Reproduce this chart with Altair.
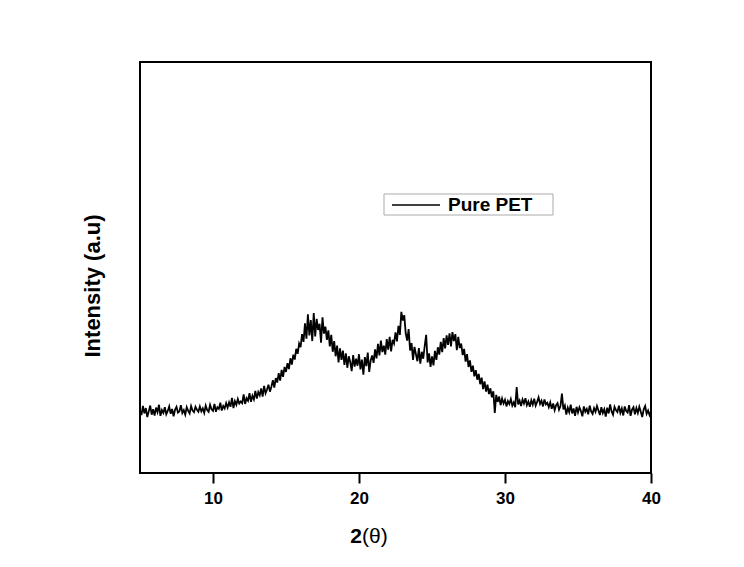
import altair as alt
import pandas as pd

# 2-theta from 5 to 40 in steps of 0.1
two_theta = [round(5 + i * 0.1, 1) for i in range(351)]

intensity = [
    15.2, 14.1, 16.3, 14.5, 15.8, 13.6, 15.0, 16.4, 14.2, 15.5,
    14.0, 15.9, 14.8, 16.6, 13.9, 15.3, 14.6, 16.0, 14.3, 15.1,
    16.2, 14.4, 15.6, 13.8, 15.4, 16.1, 14.7, 15.0, 16.5, 14.6,
    15.3, 14.2, 16.0, 15.1, 14.5, 16.3, 15.2, 14.8, 16.1, 15.4,
    14.9, 16.2, 15.0, 15.7, 14.6, 16.4, 15.3, 14.9, 16.6, 15.5,
    15.1, 16.8, 14.9, 16.0, 15.6, 17.1, 15.2, 16.3, 15.7, 17.0,
    15.9, 17.2, 16.1, 18.3, 15.8, 17.5, 16.6, 18.0, 16.9, 17.4,
    17.0, 19.1, 16.8, 18.2, 17.6, 19.4, 17.3, 18.8, 17.9, 20.0,
    18.1, 19.7, 18.9, 20.6, 18.6, 21.2, 19.4, 20.3, 21.5, 19.8,
    21.0, 22.6, 20.8, 23.1, 22.0, 24.3, 22.5, 25.1, 23.4, 25.8,
    24.6, 26.7, 25.3, 27.9, 26.4, 28.8, 27.6, 30.2, 29.0, 31.5,
    30.6, 33.8, 31.9, 36.4, 32.7, 38.6, 33.5, 37.2, 32.1, 38.9,
    33.2, 37.5, 34.8, 36.3, 31.7, 37.9, 33.9, 35.6, 32.4, 34.7,
    30.8, 33.6, 29.5, 32.1, 28.4, 31.0, 26.9, 30.3, 27.5, 29.8,
    26.3, 29.1, 25.6, 28.4, 27.0, 24.8, 28.7, 25.9, 27.8, 26.1,
    28.9, 25.2, 27.6, 23.9, 28.2, 26.0, 29.3, 24.6, 27.4, 28.6,
    26.8, 30.1, 27.9, 31.4, 28.6, 32.2, 29.4, 31.0, 28.8, 32.6,
    30.0, 33.1, 29.6, 32.4, 31.5, 34.2, 32.0, 35.8, 33.6, 39.2,
    37.1, 38.4, 34.0, 32.2, 35.0, 29.8, 31.6, 27.5, 30.7, 28.9,
    27.2, 30.4, 26.6, 29.5, 27.8, 30.9, 33.6, 26.9, 29.1, 25.8,
    28.4, 26.2, 29.7, 27.5, 30.6, 28.8, 31.9, 29.4, 32.8, 30.3,
    33.5, 31.2, 34.0, 30.8, 34.3, 32.1, 33.8, 29.9, 33.1, 30.4,
    31.5, 28.7, 30.2, 27.1, 28.9, 25.8, 27.4, 24.6, 26.1, 23.5,
    25.0, 22.7, 24.1, 21.6, 23.2, 20.4, 22.3, 19.8, 21.5, 19.2,
    20.6, 18.4, 19.9, 14.6, 19.0, 17.3, 18.6, 16.5, 18.1, 16.9,
    17.8, 16.2, 17.5, 16.8, 18.0, 16.4, 17.2, 16.0, 20.9, 16.7,
    17.6, 16.3, 17.9, 16.9, 18.2, 16.5, 17.4, 16.1, 17.7, 16.6,
    18.1, 16.4, 17.3, 18.4, 16.8, 17.6, 16.2, 17.9, 16.7, 17.1,
    16.0, 17.2, 15.6, 16.9, 15.3, 16.5, 17.0, 15.4, 16.3, 19.3,
    15.5, 16.4, 14.2, 15.9, 14.8, 16.6, 14.5, 15.7, 13.9, 16.1,
    14.7, 16.0, 15.1, 13.8, 16.2, 14.9, 15.6, 14.3, 16.4, 15.0,
    14.4, 15.8, 14.9, 16.3, 15.2, 14.1, 16.0, 14.6, 15.5, 13.7,
    15.9, 14.5, 16.7, 15.0, 14.2, 16.1, 15.3, 14.8, 16.4, 14.6,
    15.7, 14.0, 16.2, 15.1, 14.7, 16.5, 13.9, 15.4, 16.0, 14.3,
    15.8, 14.6, 16.1, 14.9, 13.6, 15.5, 16.3, 14.4, 15.2, 14.1,
    15.0,
]

series_name = "Pure PET"
x_ticks = [10, 20, 30, 40]
y_title = "Intensity (a.u)"
x_title_main = "2"
x_title_sym = "(θ)"

FONT = "Liberation Sans"

df = pd.DataFrame({"two_theta": two_theta, "intensity": intensity})

line = alt.Chart(df).mark_line(strokeWidth=1.8, color="black", clip=True).encode(
    x=alt.X(
        "two_theta:Q",
        scale=alt.Scale(domain=[5, 40], nice=False, zero=False),
        axis=alt.Axis(
            values=x_ticks,
            title=None,
            domain=False,
            grid=False,
            tickColor="black",
            tickWidth=2,
            tickSize=10,
            labelFont=FONT,
            labelFontSize=17,
            labelFontWeight="bold",
            labelColor="black",
            labelPadding=7,
            labelFlush=False,
        ),
    ),
    y=alt.Y(
        "intensity:Q",
        scale=alt.Scale(domain=[0, 100], nice=False),
        axis=None,
    ),
)

one = pd.DataFrame({"k": [0]})

def text_layer(txt, x, y, size, weight, align="left", angle=0):
    kw = dict(font=FONT, fontSize=size, fontWeight=weight, color="black",
              align=align, baseline="middle")
    if angle:
        kw["angle"] = angle
    return alt.Chart(one).mark_text(**kw).encode(
        x=alt.value(x), y=alt.value(y), text=alt.value(txt)
    )

y_lab = text_layer(y_title, -47, 224, 22, "bold", align="center", angle=270)
x_two = text_layer(x_title_main, 222, 475, 21, "bold", align="right")
x_theta = text_layer(x_title_sym, 222, 475, 21, "normal", align="left")

legend_box = alt.Chart(one).mark_rect(
    fill="white", stroke="#aaaaaa", strokeWidth=1
).encode(x=alt.value(244), x2=alt.value(413), y=alt.value(132), y2=alt.value(153))
legend_line = alt.Chart(one).mark_rule(color="black", strokeWidth=1.6).encode(
    x=alt.value(252), x2=alt.value(300), y=alt.value(143)
)
legend_text = text_layer(series_name, 308, 143, 19, "bold", align="left")

chart = alt.layer(
    line, legend_box, legend_line, legend_text, y_lab, x_two, x_theta
).properties(
    width=511,
    height=411,
    autosize=alt.AutoSizeParams(type="none"),
    padding={"left": 140, "top": 62, "right": 93, "bottom": 94},
    background="white",
).configure_view(
    stroke="black",
    strokeWidth=2,
)

chart.save("out.html", embed_options={"renderer": "svg", "actions": False})
